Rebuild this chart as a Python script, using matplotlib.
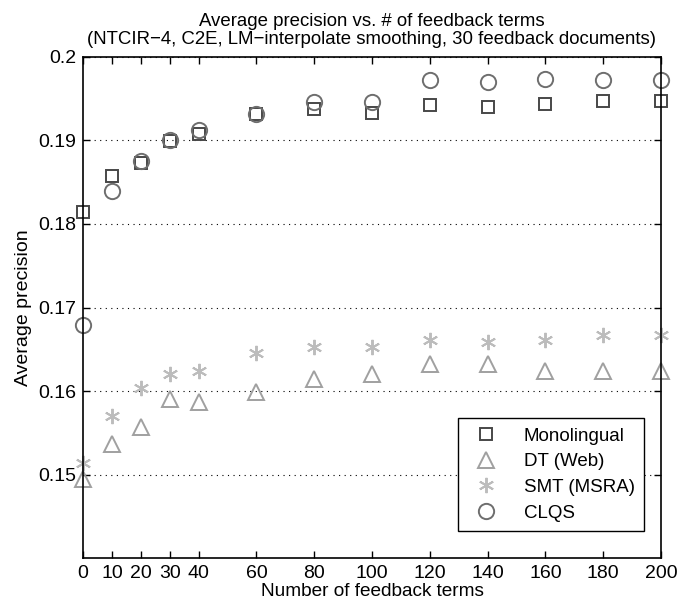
import matplotlib.pyplot as plt

plt.rcParams['font.family'] = ['Liberation Sans', 'DejaVu Sans']

terms = [0, 10, 20, 30, 40, 60, 80, 100, 120, 140, 160, 180, 200]

monolingual = [0.1814, 0.1857, 0.1873, 0.1899, 0.1908, 0.1932, 0.1938,
               0.1933, 0.1942, 0.1940, 0.1944, 0.1947, 0.1947]
dt_web = [0.1495, 0.1536, 0.1557, 0.1591, 0.1587, 0.1599, 0.1614,
          0.1620, 0.1632, 0.1632, 0.1624, 0.1624, 0.1624]
smt_msra = [0.1514, 0.1570, 0.1604, 0.1620, 0.1624, 0.1646, 0.1653,
            0.1653, 0.1661, 0.1659, 0.1661, 0.1667, 0.1667]
clqs = [0.1679, 0.1839, 0.1875, 0.1900, 0.1912, 0.1932, 0.1946,
        0.1946, 0.1973, 0.1970, 0.1974, 0.1972, 0.1972]

yticks = [0.15, 0.16, 0.17, 0.18, 0.19, 0.2]
ytick_labels = ["0.15", "0.16", "0.17", "0.18", "0.19", "0.2"]

fig = plt.figure(figsize=(6.78, 6.10), dpi=100)
ax = fig.add_axes([0.1224, 0.0852, 0.8525, 0.8214])

ax.plot(terms, monolingual, linestyle='none', marker='s', markersize=9,
        markerfacecolor='none', markeredgecolor='#474747', markeredgewidth=1.4,
        label='Monolingual', clip_on=False)
ax.plot(terms, dt_web, linestyle='none', marker='^', markersize=12,
        markerfacecolor='none', markeredgecolor='#a0a0a0', markeredgewidth=1.4,
        label='DT (Web)', clip_on=False)
ax.plot(terms, smt_msra, linestyle='none', marker=(6, 2, 0), markersize=11,
        markerfacecolor='none', markeredgecolor='#bcbcbc', markeredgewidth=1.4,
        label='SMT (MSRA)', clip_on=False)
ax.plot(terms, clqs, linestyle='none', marker='o', markersize=11,
        markerfacecolor='none', markeredgecolor='#6e6e6e', markeredgewidth=1.4,
        label='CLQS', clip_on=False)

ax.set_xlim(0, 200)
ax.set_ylim(0.14, 0.2)
ax.set_xticks(terms)
ax.set_xticklabels([str(t) for t in terms], fontsize=14)
ax.set_yticks(yticks)
ax.set_yticklabels(ytick_labels, fontsize=14)
ax.tick_params(direction='in', top=True, right=True, length=5, width=1, pad=5)
ax.yaxis.grid(True, linestyle=(0, (1, 4)), color='black', linewidth=0.8)

for s in ax.spines.values():
    s.set_linewidth(1.2)

ax.set_xlabel("Number of feedback terms", fontsize=13.7, labelpad=1)
ax.set_ylabel("Average precision", fontsize=14, labelpad=4)
ax.set_title("Average precision vs. # of feedback terms\n"
             "(NTCIR\u22124, C2E, LM\u2212interpolate smoothing, 30 feedback documents)",
             fontsize=13.4, pad=9, linespacing=1.15)

leg = ax.legend(loc='lower right', bbox_to_anchor=(0.971, 0.054), fontsize=13.5,
                fancybox=False, framealpha=1, edgecolor='black',
                borderpad=0.5, handletextpad=1.0, labelspacing=0.45,
                borderaxespad=0)
leg.get_frame().set_linewidth(1.0)

plt.savefig("out.png", dpi=100)
